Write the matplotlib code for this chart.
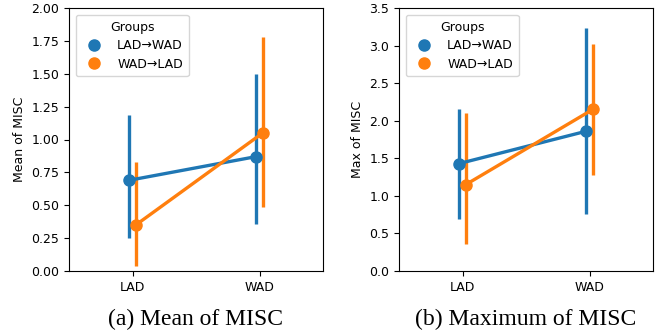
import matplotlib
matplotlib.use("Agg")
import matplotlib.pyplot as plt
import numpy as np

categories = ["LAD", "WAD"]
groups = ["LAD\u2192WAD", "WAD\u2192LAD"]
colors = ["#1f77b4", "#ff7f0e"]

mean_vals = {"LAD\u2192WAD": [0.69, 0.87], "WAD\u2192LAD": [0.35, 1.05]}
mean_lo = {"LAD\u2192WAD": [0.25, 0.36], "WAD\u2192LAD": [0.04, 0.49]}
mean_hi = {"LAD\u2192WAD": [1.19, 1.50], "WAD\u2192LAD": [0.83, 1.78]}

max_vals = {"LAD\u2192WAD": [1.43, 1.86], "WAD\u2192LAD": [1.15, 2.15]}
max_lo = {"LAD\u2192WAD": [0.69, 0.76], "WAD\u2192LAD": [0.36, 1.28]}
max_hi = {"LAD\u2192WAD": [2.16, 3.23], "WAD\u2192LAD": [2.10, 3.02]}

fig = plt.figure(figsize=(6.59, 3.3), dpi=100)
W, H = 659, 330
ax1 = fig.add_axes([69 / W, 1 - 271 / H, 254 / W, 263 / H])
ax2 = fig.add_axes([399 / W, 1 - 271 / H, 254 / W, 263 / H])

fs = 9
offsets = [-0.026, 0.026]

def draw(ax, vals, lo, hi, ylim, yticks, fmt, ylabel, caption):
    x = np.arange(len(categories))
    for g, c, off in zip(groups, colors, offsets):
        xx = x + off
        for xi, l, h in zip(xx, lo[g], hi[g]):
            ax.plot([xi, xi], [l, h], color=c, lw=2.4, solid_capstyle="butt", zorder=2)
        ax.plot(xx, vals[g], color=c, lw=2.4, marker="o", ms=8, label=g, zorder=3)
    ax.set_xlim(-0.5, 1.5)
    ax.set_ylim(*ylim)
    ax.set_xticks(x)
    ax.set_xticklabels(categories, fontsize=fs)
    ax.set_yticks(yticks)
    ax.set_yticklabels([fmt.format(t) for t in yticks], fontsize=fs)
    ax.set_ylabel(ylabel, fontsize=fs)
    ax.tick_params(length=3.5, width=0.8)
    leg = ax.legend(title="Groups", loc="upper left", fontsize=fs, title_fontsize=fs,
                    handlelength=2.0, handletextpad=0.85, borderpad=0.45, labelspacing=0.45,
                    bbox_to_anchor=(0.0, 1.0), borderaxespad=0.55)
    for h in leg.legend_handles:
        h.set_linestyle("none")
    bb = ax.get_position()
    fig.text((bb.x0 + bb.x1) / 2, 1 - 325 / H, caption, ha="center", va="baseline",
             fontsize=17, family="Liberation Serif")

draw(ax1, mean_vals, mean_lo, mean_hi, (0, 2.0), np.arange(0, 2.01, 0.25), "{:.2f}",
     "Mean of MISC", "(a) Mean of MISC")
draw(ax2, max_vals, max_lo, max_hi, (0, 3.5), np.arange(0, 3.51, 0.5), "{:.1f}",
     "Max of MISC", "(b) Maximum of MISC")

fig.savefig("out.png", dpi=100)
